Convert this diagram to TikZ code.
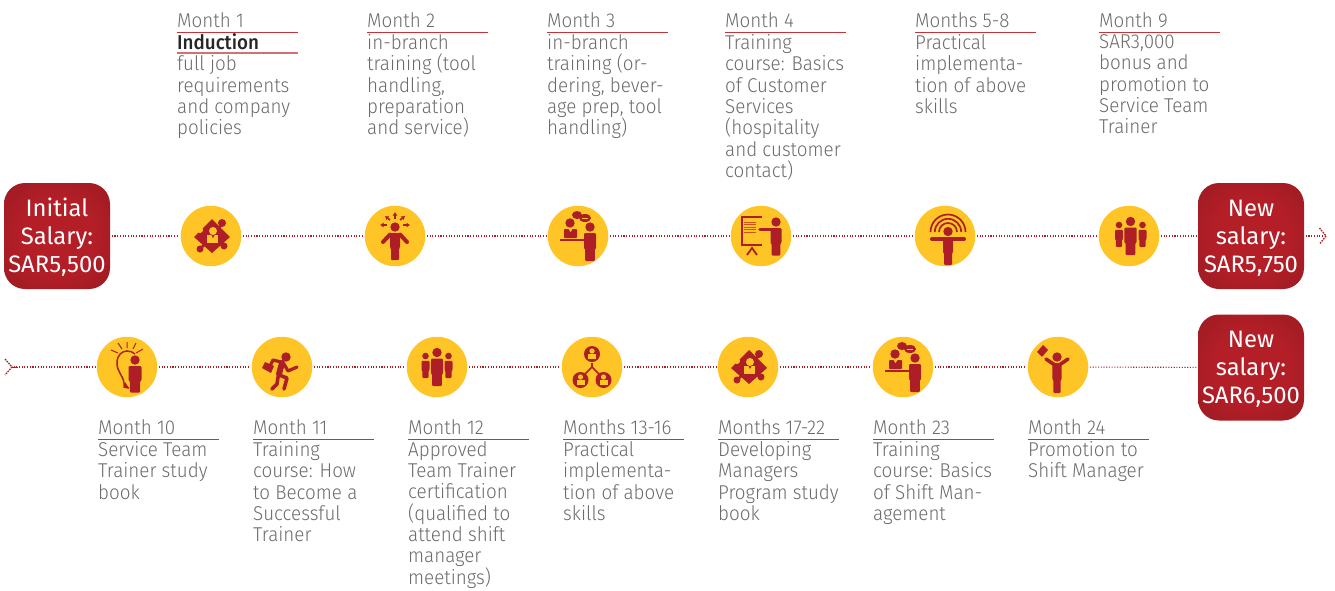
\documentclass[tikz,border=0pt]{standalone}
\usepackage{fontspec}
\usetikzlibrary{arrows.meta}
\setmainfont{Fira Sans Light}[BoldFont={Fira Sans Medium},FakeStretch=0.94]
\newfontfamily\boxfont{Fira Sans}
\definecolor{brick}{HTML}{AE1E26}
\definecolor{brickglow}{HTML}{B31E27}
\definecolor{brickdark}{HTML}{941A20}
\definecolor{sun}{HTML}{FFC425}
\definecolor{txt}{HTML}{6B6B6B}
\definecolor{rulered}{HTML}{C5333C}
\pgfdeclareradialshading{boxglow}{\pgfpoint{0bp}{0bp}}{color(0bp)=(brickglow); color(18bp)=(brickglow); color(42bp)=(brickdark); color(50bp)=(brickdark)}
\tikzset{
  x=1pt,y=-1pt,
  salary/.style={shade,shading=boxglow,rounded corners=21pt,minimum width=106pt,minimum height=106pt,inner sep=0pt,text=white,align=center,font=\boxfont\fontsize{23.8}{28}\selectfont},
  disc/.style={circle,fill=sun,minimum size=60.5pt,inner sep=0pt},
  dotline/.style={draw=brick,line width=1.1pt,dash pattern=on 1.1pt off 1.6pt,shorten >=1.5pt,shorten <=1.5pt},
  tipline/.style={draw=brick,line width=1.3pt,dash pattern=on 1.6pt off 1pt},
  head/.style={anchor=base west,inner sep=0pt,text=txt,font=\fontsize{20}{21.3}\selectfont},
  bodytxt/.style={anchor=north west,inner sep=0pt,text=txt,align=left,font=\fontsize{20}{21.3}\selectfont,execute at begin node={\rule{0pt}{15pt}}},
  redrule/.style={draw=rulered,line width=0.9pt},
  ink/.style={fill=brick,draw=none},
  inkline/.style={draw=brick,line cap=round},
  smallarrow/.style={draw=brick,line width=1.6pt,-{Latex[length=3.5pt,width=5pt]}},
}
% man: centre x, head y, head radius, half width of torso, foot y
\newcommand{\manfig}[5]{%
  \fill[ink] (#1,#2) circle[radius=#3pt];
  \fill[ink,rounded corners=1pt] ({#1-#4},{#2+#3+1.5}) -- ({#1+#4},{#2+#3+1.5}) -- ({#1+#4},{#2+#3+1.5+(#5-#2-#3-1.5)*0.55}) -- ({#1+#4*0.8},{#2+#3+1.5+(#5-#2-#3-1.5)*0.55}) -- ({#1+#4*0.8},#5) -- ({#1-#4*0.8},#5) -- ({#1-#4*0.8},{#2+#3+1.5+(#5-#2-#3-1.5)*0.55}) -- ({#1-#4},{#2+#3+1.5+(#5-#2-#3-1.5)*0.55}) -- cycle;}
\newcommand{\iconpuzzle}[1]{\begin{scope}[shift={(#1)}]
  \fill[ink] (-17,1) -- (1,-17) -- (19,1) -- (1,17) -- cycle;
  \fill[ink] (11,-13) circle[radius=4pt] (13,10) circle[radius=3.5pt] (-11,13) circle[radius=3.5pt];
  \draw[brick,line width=2.5pt] (8,-8) -- (11,-12) (9,8) -- (13,10) (-7,9) -- (-11,13);
  \fill[sun] (-11,-6) circle[radius=3pt];
  \fill[sun] (2,-5) circle[radius=4pt];
  \fill[sun] (-4,-1) rectangle (7,7);
  \fill[ink] (0.5,-1) -- (3.5,-1) -- (2,2) -- cycle;
\end{scope}}
\newcommand{\icondesk}[1]{\begin{scope}[shift={(#1)}]
  \fill[ink] (-8,-13) circle[radius=4.7pt];
  \fill[ink,rounded corners=.8pt] (-14,-7) rectangle (-1,2);
  \fill[sun] (-9.5,-7) -- (-5.5,-7) -- (-7.5,-4) -- cycle;
  \draw[brick,line width=1.6pt] (-18,4) -- (6,4);
  \manfig{12}{-9}{4.7}{6}{25}
  \fill[ink] (-1,-21) ellipse[x radius=5pt,y radius=4pt];
  \fill[ink] (7,-18) ellipse[x radius=6pt,y radius=4pt];
  \draw[sun,line width=.9pt] (4,-18) -- (10,-18);
\end{scope}}
\begin{document}
\begin{tikzpicture}
\useasboundingbox (0,0) rectangle (1335,590);
% salary boxes
\node[salary] (b1) at (57,236) {\rule{0pt}{20pt}Initial\\Salary:\\SAR5,500\rule[-4pt]{0pt}{4pt}};
\node[salary] (b2) at (1251,236) {\rule{0pt}{20pt}New\\salary:\\SAR5,750\rule[-4pt]{0pt}{4pt}};
\node[salary] (b3) at (1251,367.5) {\rule{0pt}{20pt}New\\salary:\\SAR6,500\rule[-4pt]{0pt}{4pt}};
% discs
\node[disc] (c1) at (211,236) {};
\node[disc] (c2) at (395,236) {};
\node[disc] (c3) at (578,236) {};
\node[disc] (c4) at (761,236) {};
\node[disc] (c5) at (945,236) {};
\node[disc] (c6) at (1129,236) {};
\node[disc] (d1) at (127,367) {};
\node[disc] (d2) at (282,367) {};
\node[disc] (d3) at (437,367) {};
\node[disc] (d4) at (592,367) {};
\node[disc] (d5) at (748,367) {};
\node[disc] (d6) at (903,367) {};
\node[disc] (d7) at (1058,367) {};
\coordinate (endR) at (1326,236);
\coordinate (endL) at (12,367);
% connectors
\draw[dotline] (b1) -- (c1);
\draw[dotline] (c1) -- (c2);
\draw[dotline] (c2) -- (c3);
\draw[dotline] (c3) -- (c4);
\draw[dotline] (c4) -- (c5);
\draw[dotline] (c5) -- (c6);
\draw[dotline] (c6) -- (b2);
\draw[dotline] (b2) -- (endR);
\draw[dotline] (endL) -- (d1);
\draw[dotline] (d1) -- (d2);
\draw[dotline] (d2) -- (d3);
\draw[dotline] (d3) -- (d4);
\draw[dotline] (d4) -- (d5);
\draw[dotline] (d5) -- (d6);
\draw[dotline] (d6) -- (d7);
\draw[dotline] (d7) -- (b3);
% dashed chevrons
\draw[tipline] (1319.5,228) -- (endR) -- (1319.5,244);
\draw[tipline] (5,359) -- (endL) -- (5,375);
\draw[brick,line width=1pt] (12,367) -- (18,367);
% icon: puzzle
\iconpuzzle{c1}
% icon: man with arrows
\begin{scope}[shift={(c2)}]
  \manfig{0}{-9}{4.7}{5}{24}
  \draw[inkline,line width=4pt] (-5,-1.5) -- (-12,6) (5,-1.5) -- (12,6);
  \draw[smallarrow] (0,-17) -- (0,-24);
  \draw[smallarrow] (-8,-11) -- (-15,-11);
  \draw[smallarrow] (8,-11) -- (15,-11);
  \draw[smallarrow] (-5,-16) -- (-10,-20);
  \draw[smallarrow] (5,-16) -- (10,-20);
\end{scope}
\icondesk{c3}
% icon: presenter
\begin{scope}[shift={(c4)}]
  \draw[brick,line width=1.8pt] (1,-19) -- (-19,-19) -- (-19,9) -- (1,9);
  \draw[brick!50!orange,line width=1pt] (-17,-14) -- (-5,-14) (-17,-11.5) -- (-5,-11.5) (-17,-9) -- (-5,-9) (-17,-6.5) -- (-5,-6.5) (-17,-4) -- (-5,-4);
  \draw[brick,line width=1.8pt] (-14,19) -- (-9,12) -- (-4,19);
  \manfig{15}{-14}{4.7}{5.5}{19.5}
  \draw[inkline,line width=3.6pt] (-1,-6.5) -- (10,-6.5);
\end{scope}
% icon: T man with waves
\begin{scope}[shift={(c5)}]
  \draw[brick,line width=1.7pt] (-6,-4) arc[start angle=180,end angle=0,radius=9pt];
  \draw[brick,line width=1.7pt] (-10.2,-4) arc[start angle=180,end angle=0,radius=13.2pt];
  \draw[brick,line width=1.7pt] (-14.5,-4) arc[start angle=180,end angle=0,radius=17.5pt];
  \manfig{3}{-4.5}{4.7}{5}{29}
  \draw[inkline,line width=4pt] (-13,3) -- (19,3);
\end{scope}
% icon: team
\begin{scope}[shift={(c6)}]
  \manfig{1.5}{-14.5}{4.7}{6.2}{19}
  \manfig{-10}{-11}{3.3}{4}{11}
  \manfig{13.5}{-11}{3.3}{4}{11}
\end{scope}
% icon: lightbulb
\begin{scope}[shift={(d1)}]
  \draw[brick,line width=1.5pt] (2,21) -- (-3,20) -- (-3,16) .. controls (-4,8) and (-10,5) .. (-10,-4) .. controls (-10,-12) and (-5,-16) .. (0,-16) .. controls (3,-16) and (6,-15) .. (8,-13);
  \draw[brick,line width=1pt] (0,-25) -- (0,-19) (-9,-24) -- (-5,-18) (-16,-17) -- (-9,-14) (9,-24) -- (6,-18) (16,-18) -- (9,-14);
  \fill[ink] (-2,15) -- (2,21) -- (-2,21) -- cycle;
  \manfig{8}{-7}{4.7}{6.5}{25.5}
\end{scope}
% icon: running man
\begin{scope}[shift={(d2)}]
  \fill[ink] (4,-10) circle[radius=4.7pt];
  \draw[inkline,line width=6pt] (0,-4) -- (-3,7);
  \draw[inkline,line width=3.2pt,line join=round] (-1,-5) -- (-9,-7) -- (-13,1);
  \draw[inkline,line width=3.2pt,line join=round] (2,-3) -- (6,4) -- (15,0);
  \draw[inkline,line width=3.6pt,line join=round] (-3,8) -- (5,11) -- (2,22);
  \draw[inkline,line width=3.6pt,line join=round] (-4,10) -- (-5,17) -- (-10,22);
  \fill[ink] (-20,1) -- (-17,-5) -- (-8,-1) -- (-11,6) -- cycle;
\end{scope}
% icon: team
\begin{scope}[shift={(d3)}]
  \manfig{0}{-14.5}{4.7}{6.2}{19}
  \manfig{-11.5}{-11}{3.3}{4}{11}
  \manfig{11.5}{-11}{3.3}{4}{11}
\end{scope}
% icon: network
\begin{scope}[shift={(d4)}]
  \draw[brick,line width=1.6pt] (0,-4) -- (0,0) -- (-7,7) (0,0) -- (7,7);
  \foreach \px/\py in {0/-13,-11.5/13,11.5/13}{
    \fill[ink] (\px,\py) circle[radius=8pt];
    \fill[sun] (\px,\py-3) circle[radius=2.6pt];
    \fill[sun] ({\px-4},\py) rectangle ({\px+4},\py+5);
  }
\end{scope}
\iconpuzzle{d5}
\icondesk{d6}
% icon: man raising sign
\begin{scope}[shift={(d7)}]
  \manfig{-1}{-10}{4.7}{4.6}{26}
  \draw[inkline,line width=3.6pt] (-4,-2.5) -- (-12,-8) (2,-2.5) -- (10,-8);
  \fill[ink] (-21,-15) -- (-15,-22) -- (-10,-17) -- (-16,-10) -- cycle;
\end{scope}
% top labels
\foreach \nm/\tx/\lab in {t1/177/Month 1,t2/367/Month 2,t3/547/Month 3,t4/725/Month 4,t5/915/Months 5-8,t6/1099/Month 9}{
  \node[head] (\nm) at (\tx,27.7) {\lab};
  \draw[redrule] (\tx,32) -- ++(121,0);
}
\node[head,text=black!85,font=\bfseries\fontsize{20}{21.3}\selectfont] (t1b) at (177,49.3) {Induction};
\draw[rulered!70,line width=1.5pt] (177,53) -- ++(121,0);
\node[bodytxt] (p1) at (177,55.5) {full job\\requirements\\and company\\policies};
\node[bodytxt] (p2) at (367,34.3) {in-branch\\training (tool\\handling,\\preparation\\and service)};
\node[bodytxt] (p3) at (547,34.3) {in-branch\\training (or-\\dering, bever-\\age prep, tool\\handling)};
\node[bodytxt] (p4) at (725,34.3) {Training\\course: Basics\\of Customer\\Services\\(hospitality\\and customer\\contact)};
\node[bodytxt] (p5) at (915,34.3) {Practical\\implementa-\\tion of above\\skills};
\node[bodytxt] (p6) at (1099,34.3) {SAR3,000\\bonus and\\promotion to\\Service Team\\Trainer};
% bottom labels
\foreach \nm/\tx/\lab in {m1/98/Month 10,m2/253/Month 11,m3/408/Month 12,m4/563/Months 13-16,m5/718/Months 17-22,m6/873/Month 23,m7/1028/Month 24}{
  \node[head] (\nm) at (\tx,434.7) {\lab};
  \draw[redrule] (\tx,439) -- ++(121,0);
}
\node[bodytxt] (q1) at (98,441.3) {Service Team\\Trainer study\\book};
\node[bodytxt] (q2) at (253,441.3) {Training\\course: How\\to Become a\\Successful\\Trainer};
\node[bodytxt] (q3) at (408,441.3) {Approved\\Team Trainer\\certification\\(qualified to\\attend shift\\manager\\meetings)};
\node[bodytxt] (q4) at (563,441.3) {Practical\\implementa-\\tion of above\\skills};
\node[bodytxt] (q5) at (718,441.3) {Developing\\Managers\\Program study\\book};
\node[bodytxt] (q6) at (873,441.3) {Training\\course: Basics\\of Shift Man-\\agement};
\node[bodytxt] (q7) at (1028,441.3) {Promotion to\\Shift Manager};
\end{tikzpicture}
\end{document}
